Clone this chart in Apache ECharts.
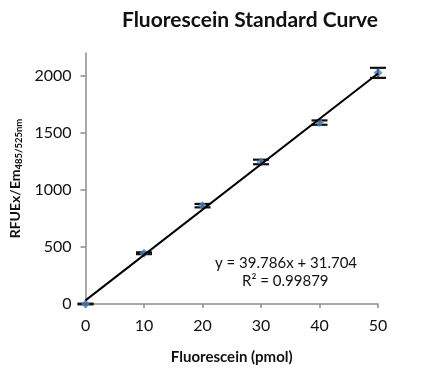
<!DOCTYPE html>
<html>
<head>
<meta charset="utf-8">
<script src="https://cdn.jsdelivr.net/npm/echarts@6/dist/echarts.min.js"></script>
<style>
  html, body { margin: 0; padding: 0; background: #fff; }
  #chart { width: 429px; height: 378px; }
</style>
</head>
<body>
<div id="chart"></div>
<script>
// fluorescein amounts (pmol) and mean RFU
var xValues = [0, 10, 20, 30, 40, 50];
var yValues = [0, 445, 862, 1245, 1590, 2026];
var yErrors = [3, 8, 15, 20, 19, 44];
var yTicks = [0, 500, 1000, 1500, 2000];
// linear fit shown on the chart
var slope = 39.786;
var intercept = 31.704;
var rSquared = 0.99879;

var font = "Lato, 'Open Sans', sans-serif";
var axisGray = "#8c8c8c";

var points = xValues.map(function (x, i) { return [x, yValues[i]]; });
var errData = xValues.map(function (x, i) { return [x, yValues[i], yErrors[i]]; });
var fitData = [[0, intercept], [50, slope * 50 + intercept]];

var chart = echarts.init(document.getElementById("chart"));
chart.setOption({
  animation: false,
  title: {
    text: "Fluorescein Standard Curve",
    left: 245,
    top: 5,
    textAlign: "center",
    textStyle: { fontFamily: font, fontSize: 21, fontWeight: "bold", color: "#111" }
  },
  grid: { left: 84, right: 51, top: 53, bottom: 74 },
  xAxis: {
    type: "value",
    min: 0, max: 50, interval: 10,
    name: "Fluorescein (pmol)",
    nameLocation: "middle",
    nameGap: 46,
    nameTextStyle: { fontFamily: font, fontSize: 15, fontWeight: "bold", color: "#111" },
    axisLine: { lineStyle: { color: axisGray, width: 1.5 } },
    axisTick: { show: true, length: 4, lineStyle: { color: axisGray, width: 1.5 } },
    axisLabel: { fontFamily: font, fontSize: 16, color: "#111", margin: 14 },
    splitLine: { show: false }
  },
  yAxis: {
    type: "value",
    min: 0, max: 2200, interval: 500,
    name: "{a|RFUEx/Em}{b|485/525nm}",
    nameLocation: "middle",
    nameGap: 57,
    nameRotate: 90,
    nameTextStyle: {
      rich: {
        a: { fontFamily: font, fontSize: 14, fontWeight: "bold", color: "#111" },
        b: { fontFamily: font, fontSize: 9.5, fontWeight: "bold", color: "#111", verticalAlign: "bottom", padding: [7, 0, 0, 0] }
      }
    },
    axisLine: { show: true, lineStyle: { color: axisGray, width: 1.5 } },
    axisTick: { show: true, length: 5, customValues: yTicks, lineStyle: { color: axisGray, width: 1.5 } },
    axisLabel: {
      fontFamily: font, fontSize: 16, color: "#111", margin: 14, customValues: yTicks,
      formatter: function (v) { return String(v); }
    },
    splitLine: { show: false }
  },
  series: [
    {
      type: "custom",
      data: errData,
      z: 2,
      renderItem: function (params, api) {
        var x = api.value(0), y = api.value(1), e = api.value(2);
        var hi = api.coord([x, y + e]);
        var lo = api.coord([x, y - e]);
        var w = 8;
        var style = { stroke: "#111", lineWidth: 2.2 };
        return {
          type: "group",
          children: [
            { type: "line", shape: { x1: hi[0], y1: hi[1], x2: lo[0], y2: lo[1] }, style: style },
            { type: "line", shape: { x1: hi[0] - w, y1: hi[1], x2: hi[0] + w, y2: hi[1] }, style: style },
            { type: "line", shape: { x1: lo[0] - w, y1: lo[1], x2: lo[0] + w, y2: lo[1] }, style: style }
          ]
        };
      }
    },
    {
      type: "scatter",
      data: points,
      symbol: "diamond",
      symbolSize: 9,
      z: 3,
      itemStyle: { color: "#4f81bd" }
    },
    {
      type: "line",
      data: fitData,
      showSymbol: false,
      z: 4,
      lineStyle: { color: "#000", width: 2 }
    }
  ],
  graphic: [
    {
      type: "text",
      left: 215, top: 256,
      style: { text: "y = " + slope + "x + " + intercept, font: "15px " + font, fill: "#111" }
    },
    {
      type: "text",
      left: 242, top: 274,
      style: { text: "R² = " + rSquared, font: "15px " + font, fill: "#111" }
    }
  ]
});
</script>
</body>
</html>
